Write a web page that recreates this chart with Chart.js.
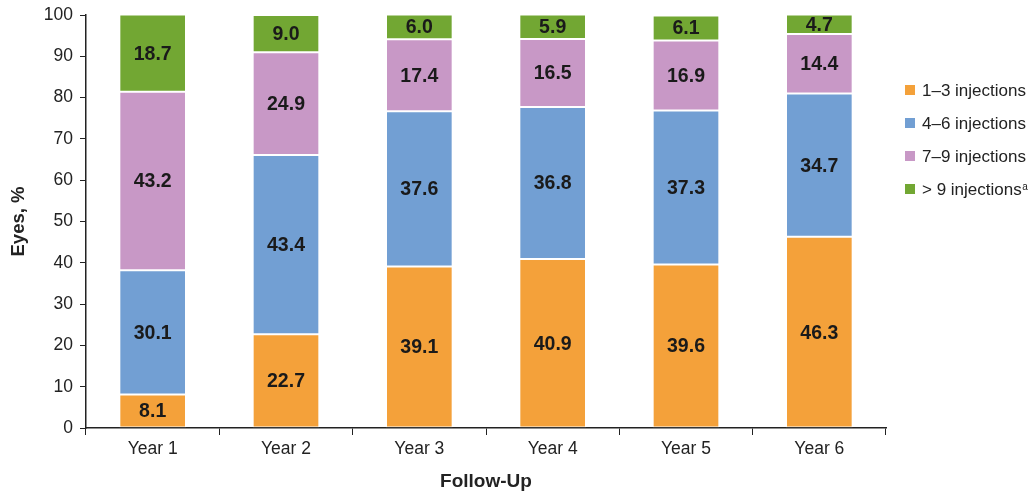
<!DOCTYPE html>
<html>
<head>
<meta charset="utf-8">
<script src="https://cdn.jsdelivr.net/npm/chart.js@4/dist/chart.umd.min.js"></script>
<style>
  html, body { margin: 0; padding: 0; background: #fff; }
  #wrap { width: 1034px; height: 495px; position: relative; }
</style>
</head>
<body>
<div id="wrap"><canvas id="c" width="1034" height="495"></canvas></div>
<script>
// Share of eyes by number of injections per follow-up year
const categories = ['Year 1', 'Year 2', 'Year 3', 'Year 4', 'Year 5', 'Year 6'];
const inj1to3 = [8.1, 22.7, 39.1, 40.9, 39.6, 46.3];
const inj4to6 = [30.1, 43.4, 37.6, 36.8, 37.3, 34.7];
const inj7to9 = [43.2, 24.9, 17.4, 16.5, 16.9, 14.4];
const injOver9 = [18.7, 9.0, 6.0, 5.9, 6.1, 4.7];
const seriesNames = ['1–3 injections', '4–6 injections', '7–9 injections', '> 9 injections'];
const yTicks = [0, 10, 20, 30, 40, 50, 60, 70, 80, 90, 100];

const colors = ['#F4A13A', '#729FD3', '#C898C6', '#72A733'];
const FONT = '"Liberation Sans", Arial, sans-serif';

// Centered bold value labels inside each segment
const valueLabels = {
  id: 'valueLabels',
  afterDatasetsDraw(chart) {
    const ctx = chart.ctx;
    ctx.save();
    ctx.font = 'bold 19.5px ' + FONT;
    ctx.fillStyle = '#1a1a1a';
    ctx.textAlign = 'center';
    ctx.textBaseline = 'middle';
    chart.data.datasets.forEach((ds, di) => {
      const meta = chart.getDatasetMeta(di);
      meta.data.forEach((bar, i) => {
        const v = ds.data[i];
        const p = bar.getProps(['x', 'y', 'base'], true);
        ctx.fillText(v.toFixed(1), p.x, (p.y + p.base) / 2 + 1);
      });
    });
    ctx.restore();
  }
};

// Legend at the right, with superscript note marker on the last entry
const sideLegend = {
  id: 'sideLegend',
  afterDraw(chart) {
    const ctx = chart.ctx;
    ctx.save();
    const x0 = 905, rowsY = [90, 123, 156, 189];
    ctx.textBaseline = 'middle';
    ctx.textAlign = 'left';
    seriesNames.forEach((name, i) => {
      ctx.fillStyle = colors[i];
      ctx.fillRect(x0, rowsY[i] - 5, 10, 10);
      ctx.fillStyle = '#222';
      ctx.font = '17px ' + FONT;
      ctx.fillText(name, x0 + 17, rowsY[i] + 1);
      if (i === 3) {
        const w = ctx.measureText(name).width;
        ctx.font = '10px ' + FONT;
        ctx.fillText('a', x0 + 17.5 + w, rowsY[i] - 2);
      }
    });
    ctx.restore();
  }
};

const datasets = [inj1to3, inj4to6, inj7to9, injOver9].map((d, i) => ({
  label: seriesNames[i],
  data: d,
  backgroundColor: colors[i],
  borderColor: 'rgba(255,255,255,0.35)',
  borderWidth: 1,
  borderSkipped: false,
  barPercentage: 0.5,
  categoryPercentage: 1.0
}));

new Chart(document.getElementById('c'), {
  type: 'bar',
  data: { labels: categories, datasets },
  options: {
    responsive: false,
    animation: false,
    layout: { padding: { top: 15, right: 148, bottom: 0, left: 4 } },
    plugins: { legend: { display: false }, tooltip: { enabled: false } },
    scales: {
      x: {
        stacked: true,
        grid: { display: true, drawOnChartArea: false, offset: true, color: '#222', tickLength: 7, lineWidth: 1 },
        border: { color: '#222', width: 1.5 },
        ticks: { color: '#222', font: { family: FONT, size: 17.5 }, padding: 4 },
        title: { display: true, text: 'Follow-Up', color: '#222', font: { family: FONT, size: 19, weight: 'bold' }, padding: { top: 0, bottom: 2 } },
        afterFit(s) { s.height = 67; }
      },
      y: {
        stacked: true,
        min: 0, max: 100,
        afterBuildTicks(s) { s.ticks = yTicks.map(v => ({ value: v })); },
        grid: { display: true, drawOnChartArea: false, color: '#222', tickLength: 6 },
        border: { color: '#222', width: 1.5 },
        ticks: { color: '#222', font: { family: FONT, size: 17.5, lineHeight: 0.9 }, padding: 7 },
        title: { display: true, text: 'Eyes, %', color: '#222', font: { family: FONT, size: 18.5, weight: 'bold' }, padding: { top: 4, bottom: 6 } },
        afterFit(s) { s.width = 82; }
      }
    }
  },
  plugins: [valueLabels, sideLegend]
});
</script>
</body>
</html>
